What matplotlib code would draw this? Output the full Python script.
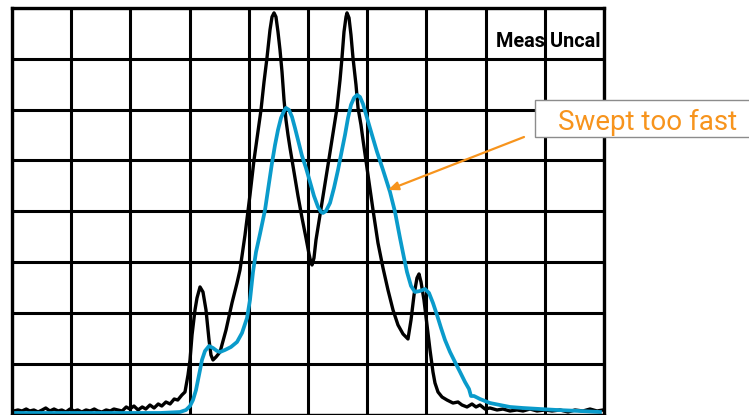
import matplotlib
matplotlib.use("Agg")
import matplotlib.pyplot as plt
from matplotlib.patches import Rectangle, FancyArrowPatch

# ---- data (screen divisions: x 0..10, y 0..8) ----
black_x = [0.03, 0.10, 0.17, 0.24, 0.30, 0.37, 0.44, 0.51, 0.57, 0.64, 0.71, 0.78, 0.84, 0.91,
           0.98, 1.05, 1.11, 1.18, 1.25, 1.32, 1.39, 1.45, 1.52, 1.59, 1.66, 1.72, 1.79, 1.86,
           1.93, 1.99, 2.06, 2.13, 2.20, 2.26, 2.33, 2.40, 2.47, 2.53, 2.60, 2.67, 2.74, 2.80,
           2.87,
           2.922, 2.973, 3.007, 3.041, 3.091, 3.125, 3.176, 3.226, 3.277, 3.328, 3.361, 3.395,
           3.446, 3.514, 3.615, 3.716, 3.801, 3.851, 3.936, 4.020, 4.088, 4.155, 4.206, 4.257,
           4.307, 4.358, 4.392, 4.426, 4.459, 4.493, 4.527, 4.561, 4.595, 4.628, 4.662, 4.696,
           4.764, 4.831, 4.899, 4.966, 5.017, 5.051, 5.068, 5.101, 5.135, 5.203, 5.270, 5.338,
           5.405, 5.490, 5.541, 5.574, 5.608, 5.642, 5.659, 5.693, 5.726, 5.760, 5.811, 5.845,
           5.895, 5.929, 6.014, 6.098, 6.182, 6.267, 6.351, 6.436, 6.520, 6.605, 6.689, 6.740,
           6.791, 6.841, 6.875, 6.909, 6.959, 7.010, 7.061, 7.111, 7.145, 7.196, 7.264, 7.348,
           7.449, 7.534, 7.601, 7.686, 7.770, 7.838, 7.905, 7.990, 8.074, 8.193, 8.294, 8.412,
           8.530, 8.632, 8.750, 8.868, 9.003, 9.122, 9.257, 9.392, 9.510, 9.645, 9.764, 9.882,
           9.983]
black_y = [0.069, 0.089, 0.069, 0.108, 0.069, 0.089, 0.049, 0.089, 0.128, 0.069, 0.108, 0.069,
           0.089, 0.049, 0.108, 0.069, 0.089, 0.049, 0.089, 0.069, 0.108, 0.069, 0.049, 0.089,
           0.069, 0.108, 0.089, 0.069, 0.148, 0.108, 0.167, 0.089, 0.148, 0.108, 0.187, 0.128,
           0.207, 0.167, 0.246, 0.207, 0.305, 0.285, 0.384,
           0.443, 0.778, 1.073, 1.565, 2.057, 2.293, 2.510, 2.411, 2.057, 1.467, 1.171, 1.073,
           1.132, 1.230, 1.663, 2.195, 2.589, 2.844, 3.533, 4.321, 5.010, 5.561, 5.994, 6.545,
           7.018, 7.569, 7.825, 7.904, 7.825, 7.530, 7.175, 6.742, 6.191, 5.797, 5.502, 5.246,
           4.773, 4.301, 3.868, 3.474, 3.159, 2.982, 2.943, 3.081, 3.435, 3.927, 4.419, 4.911,
           5.404, 6.033, 6.585, 7.018, 7.530, 7.825, 7.904, 7.805, 7.470, 7.018, 6.486, 6.033,
           5.699, 5.404, 4.715, 4.026, 3.376, 2.884, 2.451, 2.057, 1.762, 1.585, 1.486, 1.860,
           2.352, 2.687, 2.766, 2.608, 2.254, 1.762, 1.270, 0.837, 0.620, 0.443, 0.344, 0.285,
           0.226, 0.246, 0.187, 0.148, 0.207, 0.148, 0.187, 0.108, 0.128, 0.089, 0.108, 0.069,
           0.089, 0.069, 0.108, 0.069, 0.089, 0.069, 0.089, 0.049, 0.089, 0.069, 0.108, 0.069,
           0.089]

blue_x = [0.034, 1.486, 2.500, 2.838, 2.939, 3.007, 3.057, 3.108, 3.142, 3.176, 3.209, 3.260,
          3.328, 3.395, 3.463, 3.514, 3.598, 3.699, 3.801, 3.885, 3.970, 4.020, 4.071, 4.122,
          4.189, 4.274, 4.324, 4.392, 4.443, 4.493, 4.544, 4.595, 4.628, 4.679, 4.730, 4.780,
          4.831, 4.899, 4.966, 5.034, 5.101, 5.169, 5.220, 5.253, 5.304, 5.372, 5.439, 5.507,
          5.574, 5.625, 5.676, 5.726, 5.777, 5.828, 5.878, 5.929, 5.997, 6.081, 6.166, 6.267,
          6.385, 6.470, 6.554, 6.622, 6.672, 6.740, 6.807, 6.892, 6.976, 7.044, 7.111, 7.179,
          7.247, 7.314, 7.399, 7.483, 7.568, 7.652, 7.720, 7.753, 7.804, 7.905, 8.074, 8.243,
          8.412, 8.632, 8.919, 9.206, 9.595, 9.932]
blue_y = [0.030, 0.030, 0.030, 0.049, 0.089, 0.167, 0.285, 0.482, 0.679, 0.876, 1.073, 1.250,
          1.348, 1.309, 1.250, 1.230, 1.270, 1.329, 1.427, 1.604, 1.900, 2.254, 2.805, 3.199,
          3.553, 4.026, 4.419, 4.951, 5.305, 5.600, 5.837, 5.974, 6.033, 5.994, 5.856, 5.640,
          5.404, 5.089, 4.852, 4.577, 4.301, 4.085, 3.986, 3.967, 4.006, 4.163, 4.459, 4.813,
          5.207, 5.502, 5.837, 6.093, 6.230, 6.289, 6.250, 6.112, 5.837, 5.502, 5.167, 4.813,
          4.380, 3.986, 3.474, 3.081, 2.805, 2.530, 2.411, 2.431, 2.470, 2.392, 2.195, 1.959,
          1.703, 1.467, 1.230, 1.033, 0.837, 0.640, 0.502, 0.364, 0.364, 0.305, 0.226, 0.187,
          0.148, 0.128, 0.108, 0.089, 0.069, 0.049]

x_divs = list(range(11))
y_divs = list(range(9))

status_label = "Meas Uncal"
callout_label = "Swept too fast"

BLUE = "#0A9BCB"
ORANGE = "#F7941D"
FONT = ["Roboto", "DejaVu Sans"]

fig = plt.figure(figsize=(7.49, 4.15), dpi=100)
W, H = 749.0, 415.0
ax = fig.add_axes([12 / W, 0.5 / H, 592 / W, 406.5 / H])
ax.set_xlim(0, 10)
ax.set_ylim(0, 8)
ax.set_xticks(x_divs)
ax.set_yticks(y_divs)
ax.tick_params(length=0, labelbottom=False, labelleft=False)
ax.set_axisbelow(True)
ax.grid(True, color="black", lw=2.2)
for s in ax.spines.values():
    s.set_color("black")
    s.set_linewidth(2.4)
    s.set_zorder(3)

ax.text(8.17, 7.23, status_label, ha="left", va="baseline", fontsize=14.3,
        fontweight="bold", family=FONT, color="black", zorder=0.3, clip_on=True)

ax.plot(blue_x, blue_y, color=BLUE, lw=2.7, solid_joinstyle="round", zorder=2.2)
ax.plot(black_x, black_y, color="black", lw=2.4, solid_joinstyle="round", zorder=2.1)

# callout box
fig.patches.append(Rectangle((535 / W, 1 - 137 / H), 220 / W, 37 / H,
                             transform=fig.transFigure, facecolor="white",
                             edgecolor="#8c8c8c", lw=1.0, zorder=5))
fig.text(558 / W, 1 - 130 / H, callout_label, ha="left", va="baseline",
         fontsize=20, family=FONT, color=ORANGE, zorder=6)
fig.patches.append(FancyArrowPatch(
    (524 / W, 1 - 137 / H), (388 / W, 1 - 190 / H), transform=fig.transFigure,
    arrowstyle="-|>,head_length=6,head_width=2.5", color=ORANGE, lw=1.6,
    shrinkA=0, shrinkB=0, zorder=6))

fig.savefig("out.png", dpi=100)
